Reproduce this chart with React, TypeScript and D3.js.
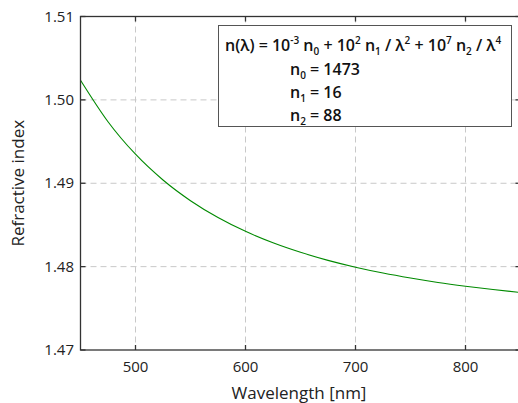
import React, { useEffect, useRef } from "react";
import * as d3 from "d3";

const wavelengths = [450, 475, 500, 525, 550, 575, 600, 625, 650, 675, 700, 725, 750, 775, 800, 825, 850];
const indices = [1.50236, 1.49738, 1.49348, 1.49039, 1.48791, 1.48589, 1.48423, 1.48286, 1.48172, 1.48075, 1.47993, 1.47923, 1.47863, 1.4781, 1.47765, 1.47725, 1.4769];
const xTicks = [500, 600, 700, 800];
const yTicks = [1.47, 1.48, 1.49, 1.5, 1.51];
const xDomain = [450, 850];
const yDomain = [1.47, 1.51];

const W = 518;
const H = 403;
const FONT = "'Open Sans', 'Noto Sans', sans-serif";

export default function App() {
  const ref = useRef<SVGSVGElement>(null);
  useEffect(() => {
    const svg = d3.select(ref.current);
    svg.selectAll("*").remove();
    const left = 80.5, top = 16.5, bottom = 350, right = 520.5;
    const x = d3.scaleLinear().domain(xDomain).range([left, right]);
    const y = d3.scaleLinear().domain(yDomain).range([bottom, top]);
    svg.append("rect").attr("width", W).attr("height", H).attr("fill", "#fff");
    const g = svg.append("g");
    // grid
    g.selectAll(".gx").data(xTicks).enter().append("line")
      .attr("x1", d => x(d)).attr("x2", d => x(d)).attr("y1", top).attr("y2", bottom)
      .attr("stroke", "#c8c8c8").attr("stroke-dasharray", "6,4").attr("stroke-width", 1);
    g.selectAll(".gy").data(yTicks.slice(1, -1)).enter().append("line")
      .attr("x1", left).attr("x2", right).attr("y1", d => y(d)).attr("y2", d => y(d))
      .attr("stroke", "#c8c8c8").attr("stroke-dasharray", "6,4").attr("stroke-width", 1);
    // curve
    const line = d3.line<number>().x((_, i) => x(wavelengths[i])).y(d => y(d)).curve(d3.curveMonotoneX);
    g.append("path").attr("d", line(indices)).attr("fill", "none").attr("stroke", "#008a00").attr("stroke-width", 1.1);
    // frame
    g.append("rect").attr("x", left).attr("y", top).attr("width", right - left).attr("height", bottom - top)
      .attr("fill", "none").attr("stroke", "#333").attr("stroke-width", 1.3);
    const tl = 5;
    xTicks.forEach(t => {
      g.append("line").attr("x1", x(t)).attr("x2", x(t)).attr("y1", bottom).attr("y2", bottom - tl).attr("stroke", "#333").attr("stroke-width", 1.3);
      g.append("line").attr("x1", x(t)).attr("x2", x(t)).attr("y1", top).attr("y2", top + tl).attr("stroke", "#333").attr("stroke-width", 1.3);
      g.append("text").attr("x", x(t)).attr("y", 372).attr("text-anchor", "middle")
        .attr("font-family", FONT).attr("font-size", 15).attr("fill", "#222").text(String(t));
    });
    yTicks.forEach(t => {
      g.append("line").attr("x1", left).attr("x2", left + tl).attr("y1", y(t)).attr("y2", y(t)).attr("stroke", "#333").attr("stroke-width", 1.3);
      g.append("line").attr("x1", right).attr("x2", right - tl).attr("y1", y(t)).attr("y2", y(t)).attr("stroke", "#333").attr("stroke-width", 1.3);
      g.append("text").attr("x", 74).attr("y", y(t) + 5).attr("text-anchor", "end")
        .attr("font-family", FONT).attr("font-size", 15).attr("fill", "#222").text(t.toFixed(2));
    });
    g.append("text").attr("x", 299).attr("y", 399).attr("text-anchor", "middle")
      .attr("font-family", FONT).attr("font-size", 17).attr("fill", "#222").text("Wavelength [nm]");
    g.append("text").attr("transform", `translate(24,${(top + bottom) / 2}) rotate(-90)`).attr("text-anchor", "middle")
      .attr("font-family", FONT).attr("font-size", 17).attr("fill", "#222").text("Refractive index");
    // legend box
    g.append("rect").attr("x", 218.5).attr("y", 25.5).attr("width", 293).attr("height", 101)
      .attr("fill", "#fff").attr("stroke", "#555").attr("stroke-width", 1);
    const formula = g.append("text").attr("x", 225).attr("y", 51).attr("font-family", FONT)
      .attr("font-size", 16).attr("font-weight", 600).attr("fill", "#111");
    const seq: [string, "n" | "sup" | "sub"][] = [
      ["n(λ) = 10", "n"], ["-3", "sup"], [" n", "n"], ["0", "sub"], [" + 10", "n"], ["2", "sup"], [" n", "n"], ["1", "sub"],
      [" / λ", "n"], ["2", "sup"], [" + 10", "n"], ["7", "sup"], [" n", "n"], ["2", "sub"], [" / λ", "n"], ["4", "sup"],
    ];
    let cur = 0;
    seq.forEach(([s, k]) => {
      const target = k === "sup" ? -7 : k === "sub" ? 4 : 0;
      const sp = formula.append("tspan").text(s).attr("dy", target - cur);
      if (k !== "n") sp.attr("font-size", 10);
      cur = target;
    });
    const sub = (py: number, idx: string, val: string) => {
      const t = g.append("text").attr("x", 290).attr("y", py).attr("font-family", FONT)
        .attr("font-size", 16).attr("font-weight", 600).attr("fill", "#111");
      t.append("tspan").text("n");
      t.append("tspan").text(idx).attr("font-size", 10).attr("dy", 4);
      t.append("tspan").text(" = " + val).attr("dy", -4);
    };
    sub(75, "0", "1473");
    sub(98, "1", "16");
    sub(121, "2", "88");
  }, []);
  return (
    <svg ref={ref} width={W} height={H} style={{ position: "absolute", left: 0, top: 0 }} />
  );
}
